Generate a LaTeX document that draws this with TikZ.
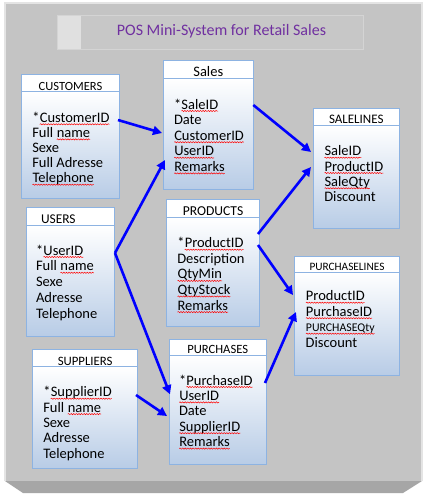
\documentclass[tikz,border=0pt]{standalone}
\usepackage{fontspec}
\setmainfont{Carlito}
\usetikzlibrary{arrows.meta,fit,calc,decorations.pathmorphing}
\definecolor{panelgray}{RGB}{196,196,196}
\definecolor{bevelgray}{RGB}{166,166,166}
\definecolor{edgegray}{RGB}{228,228,228}
\definecolor{tborder}{RGB}{141,179,226}
\definecolor{tblue}{RGB}{184,204,230}
\definecolor{titlepurple}{RGB}{112,48,160}
\definecolor{arrblue}{RGB}{0,0,255}
\tikzset{
  hdrbox/.style={inner sep=0pt,outer sep=0pt,draw=tborder,line width=0.8pt,fill=white},
  bodybox/.style={inner sep=0pt,outer sep=0pt,draw=tborder,line width=0.8pt,top color=white,bottom color=tblue},
  rowtext/.style={inner sep=0pt,outer sep=0pt,anchor=base west,font=\fontsize{14.5}{16}\selectfont},
  sqline/.style={red,line width=0.5pt,decorate,decoration={snake,amplitude=0.6pt,segment length=2.6pt}},
  arr/.style={arrblue,line width=2.6pt,-{Triangle[length=9pt,width=9pt]}}
}
\newcommand\sq[1]{\tikz[baseline=(w.base)]{\node[inner sep=0pt,outer sep=0pt,anchor=base,draw=none](w){#1};\draw[sqline]([yshift=-2pt]w.base west)--([yshift=-2pt]w.base east);}}
% name, x1, y1, x2, yh, y2, title, title size, title centre
\newcommand\mktable[9]{%
  \node[hdrbox,fit={(#2,#3) (#4,#5)}] (#1H) {};
  \node[bodybox,fit={(#2,#5) (#4,#6)}] (#1B) {};
  \node[inner sep=0pt,anchor=base,font=\fontsize{#8}{#8}\selectfont] (#1T) at (#9,{#5-1.6}) {#7};
}
% name, x, first baseline, step, lines
\newcommand\mklines[5]{%
  \foreach \t [count=\i] in {#5} {
    \node[rowtext] (#1\i) at (#2,{#3+(\i-1)*#4}) {\t};
  }
}
\begin{document}
\begin{tikzpicture}[x=1pt,y=-1pt]
\useasboundingbox (0,0) rectangle (428,498);
\fill[white] (0,0) rectangle (428,498);
% panel
\fill[panelgray] (5,3) rectangle (422,481);
\fill[bevelgray] (5,481) -- (422,481) -- (403,493) -- (23,493) -- cycle;
\draw[edgegray,line width=1.2pt] (5,481) -- (5,3) -- (422,3) -- (422,481);
% title
\node[fit={(57,15) (363,49)},inner sep=0pt,fill={rgb,255:red,199;green,199;blue,199},draw={rgb,255:red,212;green,212;blue,212},line width=1pt] (titlebox) {};
\node[fit={(57.5,15.5) (81,48.5)},inner sep=0pt,fill={rgb,255:red,224;green,224;blue,224}] (titlesq) {};
\node[inner sep=0pt,anchor=base,text=titlepurple,font=\fontsize{16}{16}\selectfont] (title) at (221.5,35) {POS Mini-System for Retail Sales};

% tables
\mktable{cust}{21.7}{74.7}{119.3}{91.7}{198.3}{CUSTOMERS}{12.5}{70.5}
\mklines{cust}{32.3}{122.3}{15.1}{*\sq{CustomerID},Full \sq{name},Sexe,Full Adresse,\sq{Telephone}}

\mktable{sales}{163.3}{60.7}{253.3}{78.3}{189}{Sales}{14.5}{208.3}
\mklines{sales}{174}{109}{15.6}{*\sq{SaleID},Date,\sq{CustomerID},\sq{UserID},\sq{Remarks}}

\mktable{salel}{313.3}{108.7}{399.3}{125.3}{228.3}{SALELINES}{13}{356.3}
\mklines{salel}{324.3}{155.7}{15.3}{\sq{SaleID},\sq{ProductID},\sq{SaleQty},Discount}

\mktable{users}{26.7}{207.7}{114.3}{225}{336}{USERS}{13.4}{58.3}
\mklines{users}{36}{255}{15.8}{*\sq{UserID},Full \sq{name},Sexe,Adresse,Telephone}

\mktable{prod}{166.7}{199.3}{259.3}{217.3}{326.7}{PRODUCTS}{13.6}{213}
\mklines{prod}{177.3}{247.7}{15.6}{*\sq{ProductID},Description,\sq{QtyMin},\sq{QtyStock},\sq{Remarks}}

\mktable{purl}{294.3}{256.7}{399}{272.3}{375}{PURCHASELINES}{11.3}{347}
\mklines{purl}{305.7}{300.7}{15.5}{\sq{ProductID},\sq{PurchaseID},\sq{\fontsize{11.8}{12}\selectfont PURCHASEQty},Discount}

\mktable{purch}{169}{339}{266.7}{355.3}{464.3}{PURCHASES}{12.6}{217.7}
\mklines{purch}{179}{385}{15.4}{*\sq{PurchaseID},\sq{UserID},Date,\sq{SupplierID},\sq{Remarks}}

\mktable{supp}{32.7}{349.3}{137.7}{366.7}{468.3}{SUPPLIERS}{12.8}{85.2}
\mklines{supp}{43.3}{396.7}{15.4}{*\sq{SupplierID},Full \sq{name},Sexe,Adresse,Telephone}

% connectors
\draw[arr] ($(custB.north east)+(-1.3,28.3)$) -- ($(salesB.north west)+(-1.3,54.7)$);
\draw[arr] ($(usersB.north east)+(0.7,28)$) -- ($(salesB.north west)+(1.7,81.7)$);
\draw[arr] ($(usersB.north east)+(0.7,28)$) -- ($(purchB.north west)+(1,39)$);
\draw[arr] ($(salesB.north east)+(0,26.7)$) -- ($(salelB.north west)+(-2.3,26.7)$);
\draw[arr] ($(prodB.north east)+(-1.3,16.7)$) -- ($(salelB.north west)+(-2.3,41.7)$);
\draw[arr] ($(prodB.north east)+(-1.3,27.7)$) -- ($(purlB.north west)+(-1.3,22.7)$);
\draw[arr] ($(purchB.north east)+(-1.7,27.7)$) -- ($(purlB.north west)+(1.7,39.7)$);
\draw[arr] ($(suppB.north east)+(-1.7,28.3)$) -- ($(purchB.north west)+(-2,60.7)$);
\end{tikzpicture}
\end{document}
